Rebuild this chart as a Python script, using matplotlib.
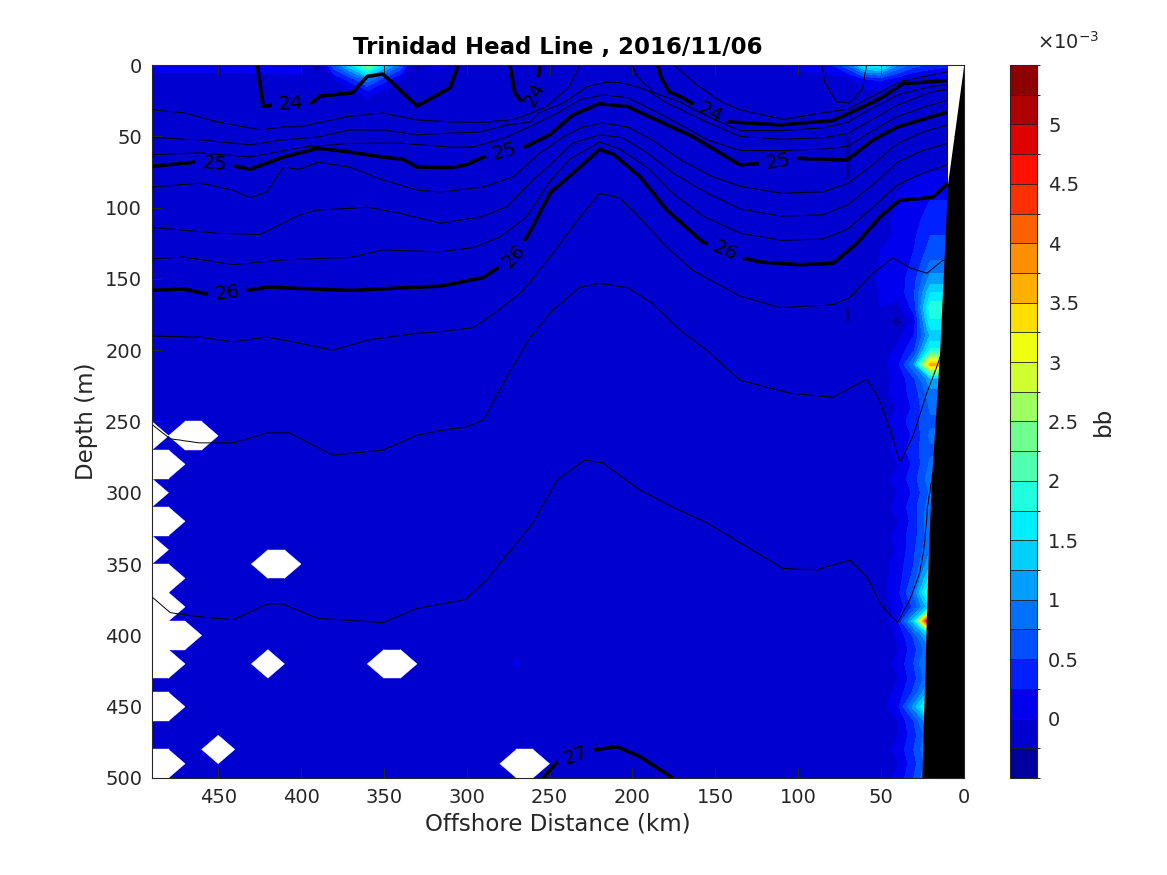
import numpy as np
import matplotlib
matplotlib.use("Agg")
import matplotlib.pyplot as plt
from matplotlib.colors import ListedColormap, BoundaryNorm
from matplotlib.patches import Polygon

# ------------------------------------------------------------------
# bb (backscatter) field on the section grid: 10 km x 10 m
# ------------------------------------------------------------------
grid_dist = np.arange(10, 491, 10)      # km offshore
grid_depth = np.arange(0, 501, 10)      # m
bb_background = -0.1e-3

# surface row (0 m), values in 1e-3
surf_dist = [490, 480, 470, 460, 450, 440, 430, 420, 410, 400, 390, 380, 370, 360, 350,
             340, 330, 320, 310, 300, 130, 120, 110, 100, 90, 80, 70, 60, 50, 40, 30, 20, 10]
surf_bb = [0.1, 0.1, 0.1, 0.1, 0.1, 0.1, 0.12, 0.15, 0.2, 0.15, -0.6, 0.7, 1.5, 2.4, 1.5,
           0.7, -0.6, 0.05, 0.0, -0.05, -0.05, 0.0, 0.0, 0.05, 0.1, 0.2, 0.7, 1.7, 1.8, 1.0, 0.6, 0.4, 0.3]

# second row (10 m), values in 1e-3
row10_dist = [380, 370, 360, 350, 340, 60, 50, 40]
row10_bb = [0.0, 0.35, 0.9, 0.35, 0.0, 0.2, 0.3, 0.1]

# third row (20 m), values in 1e-3
row20_dist = [360]
row20_bb = [0.05]

# coastal columns (80-500 m), values in 1e-3
coast_depth = np.arange(80, 501, 10)
coast_bb_20 = [0.1, 0.2, 0.3, 0.4, 0.5, 0.6, 0.8, 1.1, 1.5, 1.9,
               1.7, 1.3, 1.8, 3.6, 1.2, 0.9, 0.8, 0.7, 0.8, 0.7,
               0.8, 0.9, 0.8, 0.9, 1.0, 0.9, 1.0, 1.2, 1.6, 2.2,
               1.5, 6.0, 1.5, 1.0, 1.2, 1.0, 1.4, 2.2, 1.3, 1.0,
               1.1, 1.0, 1.1]
coast_bb_30 = [0.0, 0.05, 0.1, 0.15, 0.2, 0.25, 0.3, 0.4, 0.45, 0.35,
               0.1, 0.25, 0.45, 1.0, 0.45, 0.35, 0.3, 0.4, 0.3, 0.4,
               0.3, 0.4, 0.3, 0.4, 0.35, 0.4, 0.45, 0.5, 0.6, 0.8,
               0.55, 1.4, 0.55, 0.4, 0.5, 0.4, 0.55, 1.1, 0.5, 0.4,
               0.5, 0.4, 0.5]
coast_bb_40 = [-0.05, 0.0, 0.02, 0.05, 0.05, 0.08, 0.1, 0.1, 0.08, -0.1,
               -0.4, -0.1, 0.05, 0.15, 0.05, 0.1, 0.0, 0.08, 0.0, 0.08,
               -0.02, 0.06, 0.0, 0.06, -0.02, 0.06, 0.02, 0.08, 0.1, 0.15,
               0.05, 0.2, 0.02, -0.02, 0.05, -0.02, 0.05, 0.15, 0.0, -0.02,
               0.05, -0.02, 0.05]

# isolated nodes (dist km, depth m, bb in 1e-3)
spot_dist = [50, 50, 50, 50, 50, 70, 70, 70, 70, 70, 70, 50, 270]
spot_depth = [130, 140, 150, 160, 170, 50, 60, 70, 80, 170, 180, 390, 420]
spot_bb = [0.0, 0.02, 0.03, 0.02, 0.0, -0.28, -0.28, -0.28, -0.28, -0.28, -0.28, -0.3, 0.03]

# missing samples (white holes)
hole_dist = [490, 470, 460, 490, 480, 490, 490, 480, 490, 490, 480, 490, 480, 490, 480, 470,
             490, 480, 490, 480, 490, 480, 450, 420, 410, 420, 350, 340, 270, 260]
hole_depth = [260, 260, 260, 280, 280, 300, 320, 320, 340, 360, 360, 380, 380, 400, 400, 400,
              420, 420, 450, 450, 490, 490, 480, 350, 350, 420, 420, 420, 490, 490]

# bathymetry (black)
bathy_dist = [0, 9.7, 14.5, 19.5, 21.5, 25.3]
bathy_depth = [0, 83, 200, 291, 347, 500]

# ------------------------------------------------------------------
# density (sigma-theta) isopycnal depths, read along the section
# ------------------------------------------------------------------
iso_2350_x = [490, 88, 84, 77, 69, 61, 57, 10]
iso_2350_z = [-40, -15, 12, 26, 27, 17, -10, -30]
iso_2375_x = [490, 185, 175, 160, 145, 135, 109, 85, 70, 55, 38.6, 10]
iso_2375_z = [-25, -10, 0, 15, 27, 31.6, 38.6, 33.7, 31, 22, 12, 5]
iso_2400_x = [490, 427, 423, 410, 393.5, 388.6, 369, 360, 350.6, 330, 310, 303, 276, 274, 271, 266, 261,
              258, 255, 250, 190, 185, 183, 178, 171, 161, 142, 111, 79, 55, 47, 37, 10]
iso_2400_z = [-12, -6, 29, 28, 26.7, 22, 19.6, 8, 6.3, 29, 16, -8, -8, -2, 20, 27, 26,
              18, -8, -10, -8, -2, 8, 19, 22.4, 29, 40, 42, 39, 26, 21, 13, 11]
iso_2425_x = [490, 471, 451, 425, 411, 400.7, 390, 370.5, 350.6, 330, 310, 292, 272, 251.6, 238, 232,
              228, 205, 200, 197, 187.6, 171, 160, 145, 135, 111, 85, 70, 55, 40, 20, 10]
iso_2425_z = [31.5, 33.7, 40, 45.6, 43.5, 43.5, 40.7, 36, 33.7, 38.6, 40, 40.7, 38.6, 29.5, 15.4, 0,
              -8, -8, 0, 8.4, 19.6, 26, 33, 41, 46, 46, 44, 40, 30, 21, 15, 14]
iso_2450_x = [490, 461, 431, 411, 390, 370.5, 350.6, 330, 310, 292, 276, 262, 256, 242, 227.5, 215,
              207.6, 201.6, 191, 179, 171, 155, 135, 110, 85, 70, 55, 40, 20, 10]
iso_2450_z = [51, 52.6, 56, 52.6, 50.5, 45.6, 45.6, 49, 47.7, 47, 42, 40, 33, 27, 15.4, 12,
              12.6, 14, 17.5, 26.6, 31, 40, 50, 52, 51, 48, 38, 28, 19, 17]
iso_2475_x = [490, 461, 431, 400.7, 370.5, 340, 310, 296, 276, 260, 245.6, 232, 218, 203, 188, 171,
              155, 135, 110, 85, 70, 55, 40, 20, 10]
iso_2475_z = [63, 61.7, 64.5, 58, 55, 54.7, 57.5, 57.5, 50.5, 42, 33.7, 24.5, 21, 23, 31.6, 42,
              52.6, 60, 60, 59, 57, 46, 36, 28, 25]
iso_2500_x = [490, 465, 439, 431, 411, 396, 390, 370.5, 350.6, 338.6, 330, 310, 300.5, 290, 264, 250,
              236, 220, 203, 188, 163.5, 135, 113, 101, 70.6, 55, 40.4, 10]
iso_2500_z = [71, 68, 71, 73, 64.5, 60, 58, 61, 64.5, 66, 71.5, 72, 70, 64.5, 57, 49,
              35, 27, 29, 37, 50, 70, 68, 65, 66.6, 52.6, 43.5, 33]
iso_2525_x = [490, 461, 441, 431, 420.6, 411, 400.7, 390, 370.5, 350.6, 330, 316, 290, 272, 256, 242,
              230, 218, 203, 188, 171, 151.5, 135, 110, 85, 70, 55, 40, 25, 10]
iso_2525_z = [85.5, 82.7, 87.7, 93, 89, 71.5, 73, 68, 71.5, 80.6, 87.7, 89, 85.5, 78.5, 61.7, 50.5,
              43.5, 40.7, 43.5, 52.6, 66.6, 78.5, 85, 90, 89, 83, 70, 55, 47, 42]
iso_2550_x = [490, 451, 425, 411, 400.7, 390, 370.5, 360, 340, 316, 292, 276, 262, 248, 236, 220,
              206, 191, 175.6, 155, 135, 110, 85, 70, 55, 40, 25, 10]
iso_2550_z = [114, 118, 119, 111, 105, 101.7, 100.5, 99.6, 104, 111, 106.6, 99.6, 82.7, 68, 54.7, 49,
              51, 61.7, 75.7, 89.8, 101, 106, 105, 98, 84, 68, 60, 55]
iso_2575_x = [490, 471, 441, 411, 370.5, 350.6, 316, 296, 280, 264, 250, 238, 220, 207.6, 191, 175.6,
              157.5, 135, 110, 85, 70, 55, 40, 25, 10]
iso_2575_z = [136, 134.6, 140, 136.7, 135, 129.7, 131, 128, 120.6, 106.6, 82, 66, 54, 59, 72, 90,
              106, 118, 123, 122, 115, 100, 84, 76, 70]
iso_2600_x = [490, 471, 455, 433, 420.6, 370.5, 316, 290, 272, 263, 250, 240, 220, 212, 195.5, 179,
              157.5, 135, 123, 99, 79, 64.6, 50.7, 38.6, 18.7, 10]
iso_2600_z = [158, 157, 161, 158, 155.7, 158, 155, 149, 135, 119, 90, 80, 59, 62, 78, 102,
              124, 135, 138, 140, 139, 125, 106.6, 94.7, 92.6, 83]
iso_2625_x = [490, 461, 441, 420.6, 400.7, 381, 360, 330, 316, 296, 282, 266, 248, 232, 220, 207.6,
              195.5, 179, 163.5, 135, 111, 79, 68.8, 55, 43, 32.6, 22.3, 12.7]
iso_2625_z = [190, 190.7, 194, 190.7, 195, 200, 192.8, 188, 187, 184, 173, 158, 132, 107, 90, 93,
              107, 128, 144, 162, 170, 168, 163, 146, 135, 142, 146, 137]
iso_2650_x = [490, 479, 461, 441, 420.6, 407, 381, 350.6, 330, 310, 301, 290, 276, 262, 250, 232,
              220, 203, 188, 171, 155, 135, 105, 79, 58.5, 50.7, 43, 38.6, 30.8, 22.3, 16.3, 10]
iso_2650_z = [252, 262, 265, 265, 258, 258, 273.5, 270, 259.5, 255, 254, 249, 219, 191, 174, 156,
              153, 156, 167, 186, 200, 221, 230, 233, 220, 235, 261, 279, 261, 230, 212, 190]
iso_2675_x = [490, 479, 461, 441, 420.6, 411, 390, 350.6, 330, 316, 301, 288, 260, 245.6, 228.7, 218,
              195.5, 175.6, 155, 135, 109, 88.7, 68.8, 58.5, 49, 40, 32.6, 26.6, 23.5, 22.3, 19.3, 10]
iso_2675_z = [373, 384, 387, 389, 378, 378, 388, 391, 381, 378, 375, 361, 321, 291, 277, 279,
              298, 310, 321, 335, 353, 354, 347, 359, 380, 391, 375, 356, 335, 312, 289, 230]
iso_2700_x = [490, 300, 270, 254, 245.6, 221.5, 209.4, 195.5, 175.6, 160, 130, 10]
iso_2700_z = [545, 540, 518, 500, 489, 480, 478, 485, 500, 520, 545, 560]

sigma_levels = [23.5, 23.75, 24.0, 24.25, 24.5, 24.75, 25.0, 25.25, 25.5, 25.75,
                26.0, 26.25, 26.5, 26.75, 27.0]
iso_lines = [(iso_2350_x, iso_2350_z), (iso_2375_x, iso_2375_z), (iso_2400_x, iso_2400_z),
             (iso_2425_x, iso_2425_z), (iso_2450_x, iso_2450_z), (iso_2475_x, iso_2475_z),
             (iso_2500_x, iso_2500_z), (iso_2525_x, iso_2525_z), (iso_2550_x, iso_2550_z),
             (iso_2575_x, iso_2575_z), (iso_2600_x, iso_2600_z), (iso_2625_x, iso_2625_z),
             (iso_2650_x, iso_2650_z), (iso_2675_x, iso_2675_z), (iso_2700_x, iso_2700_z)]
sigma_top, depth_top = 23.0, -100.0
sigma_deep, depth_deep = 27.6, 1000.0

thin_levels = [23.5, 23.75, 24.25, 24.5, 24.75, 25.25, 25.5, 25.75, 26.25, 26.5, 26.75]
thick_levels = [24, 25, 26, 27]
label_pos = [(406, 30), (264, 18), (152, 32), (452, 67), (277, 61), (112, 68),
             (444, 165), (273, 133), (144, 131), (234, 485)]

bb_levels = np.arange(-0.5e-3, 5.5e-3 + 1e-9, 0.25e-3)
bb_ticks = np.arange(0, 5.01e-3, 0.5e-3)
bb_ticklabels = ['0', '0.5', '1', '1.5', '2', '2.5', '3', '3.5', '4', '4.5', '5']

# ------------------------------------------------------------------
# build fields
# ------------------------------------------------------------------
bb = np.full((grid_depth.size, grid_dist.size), bb_background)


def jidx(d):
    return int(np.argmin(np.abs(grid_dist - d)))


def iidx(z):
    return int(np.argmin(np.abs(grid_depth - z)))


for d, v in zip(surf_dist, surf_bb):
    bb[iidx(0), jidx(d)] = v * 1e-3
for d, v in zip(row10_dist, row10_bb):
    bb[iidx(10), jidx(d)] = v * 1e-3
for d, v in zip(row20_dist, row20_bb):
    bb[iidx(20), jidx(d)] = v * 1e-3
for col_d, col_v in ((10, coast_bb_20), (20, coast_bb_20), (30, coast_bb_30), (40, coast_bb_40)):
    for z, v in zip(coast_depth, col_v):
        bb[iidx(z), jidx(col_d)] = v * 1e-3
for d, z, v in zip(spot_dist, spot_depth, spot_bb):
    bb[iidx(z), jidx(d)] = v * 1e-3
bb = np.clip(bb, bb_levels[0] + 1e-6, bb_levels[-1] - 1e-6)

xf = np.arange(10, 490.01, 1.0)
zf = np.arange(0, 500.01, 1.0)
iso_depths = np.array([np.interp(xf, np.array(xs)[::-1], np.array(zs)[::-1]) for xs, zs in iso_lines])
sig = np.empty((zf.size, xf.size))
for j in range(xf.size):
    dep = np.concatenate(([depth_top], iso_depths[:, j], [depth_deep]))
    dep = np.maximum.accumulate(dep) + np.arange(dep.size) * 1e-6
    lev = np.concatenate(([sigma_top], sigma_levels, [sigma_deep]))
    sig[:, j] = np.interp(zf, dep, lev)


# MATLAB jet(m)
def matlab_jet(m):
    n4 = int(np.ceil(m / 4))
    u = np.concatenate((np.arange(1, n4 + 1) / n4, np.ones(n4 - 1), np.arange(n4, 0, -1) / n4))
    g = int(np.ceil(n4 / 2)) - (1 if m % 4 == 1 else 0) + np.arange(1, u.size + 1)
    out = np.zeros((m, 3))
    for arr, ch in ((g + n4, 0), (g, 1), (g - n4, 2)):
        ok = (arr >= 1) & (arr <= m)
        out[arr[ok] - 1, ch] = u[ok]
    return out


nb = len(bb_levels) - 1
jet64 = matlab_jet(64)
band_idx = np.floor((np.arange(nb) + 0.5) / nb * 64).astype(int)
cmap = ListedColormap(jet64[band_idx])
norm = BoundaryNorm(bb_levels, nb)

# ------------------------------------------------------------------
# figure
# ------------------------------------------------------------------
plt.rcParams['font.family'] = ['DejaVu Sans']
txtc = '#262626'
fig = plt.figure(figsize=(11.67, 8.75), dpi=100)
ax = fig.add_axes([0.1302, 0.1109, 0.6956, 0.8148])
cax = fig.add_axes([0.8655, 0.1109, 0.0231, 0.8148])

cf = ax.contourf(grid_dist, grid_depth, bb, levels=bb_levels, cmap=cmap, norm=norm)
cf.set_edgecolor('face')
cf.set_linewidth(0.3)

# white holes for missing samples
dx, dz = 10.0, 10.0
holes = set(zip(hole_dist, hole_depth))
for hd, hz in holes:
    ax.add_patch(Polygon([(hd + dx, hz), (hd, hz + dz), (hd - dx, hz), (hd, hz - dz)],
                         closed=True, facecolor='white', edgecolor='white', lw=0.3, zorder=2))
    if (hd - dx, hz) in holes:
        ax.add_patch(Polygon([(hd, hz - dz), (hd - dx, hz - dz), (hd - dx, hz + dz), (hd, hz + dz)],
                             closed=True, facecolor='white', edgecolor='white', lw=0.3, zorder=2))

ax.contour(xf, zf, sig, levels=thin_levels, colors='k', linewidths=0.7, zorder=3)
cs = ax.contour(xf, zf, sig, levels=thick_levels, colors='k', linewidths=2.6, zorder=3)
ax.clabel(cs, fmt='%d', fontsize=14, inline=True, inline_spacing=6, manual=label_pos)

ax.fill_betweenx(bathy_depth, bathy_dist, 0, color='k', lw=0, zorder=5)

ax.set_xlim(490, 0)
ax.set_ylim(500, 0)
ax.set_xticks(np.arange(0, 451, 50))
ax.set_yticks(np.arange(0, 501, 50))
ax.tick_params(direction='in', length=7, width=0.7, top=True, right=True,
               labelsize=14, colors=txtc, pad=7)
for s in ax.spines.values():
    s.set_color(txtc)
    s.set_linewidth(0.8)
    s.set_zorder(6)
ax.set_xlabel('Offshore Distance (km)', fontsize=16.5, color=txtc, labelpad=4)
ax.set_ylabel('Depth (m)', fontsize=16.5, color=txtc, labelpad=5)
ax.set_title('Trinidad Head Line , 2016/11/06', fontsize=16.5, fontweight='bold', color='k', pad=8)

cb = fig.colorbar(cf, cax=cax, ticks=bb_ticks, drawedges=True)
cb.ax.set_yticklabels(bb_ticklabels)
cb.ax.tick_params(labelsize=14, colors=txtc, length=0, pad=8)
cb.dividers.set_color('#202020')
cb.dividers.set_linewidth(0.6)
cb.outline.set_edgecolor(txtc)
cb.outline.set_linewidth(0.8)
cb.set_label('bb', fontsize=16.5, color=txtc, labelpad=9)
fig.text(0.889, 0.94, r'$\times10^{-3}$', fontsize=14, color=txtc, ha='left', va='bottom')

fig.savefig('out.png', dpi=100)
